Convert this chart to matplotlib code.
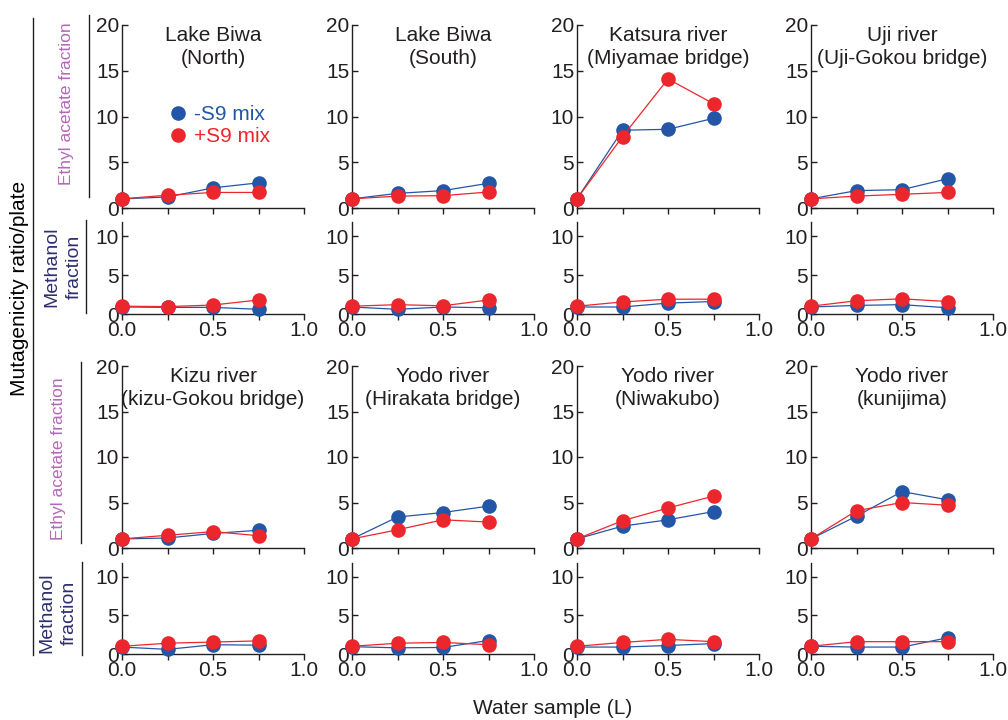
import matplotlib
matplotlib.use('Agg')
import matplotlib.pyplot as plt
from matplotlib.lines import Line2D

plt.rcParams['font.family'] = ['Liberation Sans', 'DejaVu Sans']

# ---------------- data ----------------
water_L = [0.0, 0.25, 0.5, 0.75]

sites = ["Lake Biwa\n(North)", "Lake Biwa\n(South)",
         "Katsura river\n(Miyamae bridge)", "Uji river\n(Uji-Gokou bridge)",
         "Kizu river\n(kizu-Gokou bridge)", "Yodo river\n(Hirakata bridge)",
         "Yodo river\n(Niwakubo)", "Yodo river\n(kunijima)"]

# Ethyl acetate fraction
ea_minus_s9 = [
    [1.0, 1.2, 2.2, 2.75],
    [1.0, 1.6, 1.9, 2.7],
    [1.0, 8.5, 8.6, 9.8],
    [1.0, 1.9, 2.0, 3.2],
    [1.0, 1.1, 1.6, 1.95],
    [1.0, 3.4, 3.9, 4.6],
    [1.0, 2.4, 3.1, 4.0],
    [1.0, 3.5, 6.2, 5.3],
]
ea_plus_s9 = [
    [1.0, 1.4, 1.7, 1.7],
    [1.0, 1.3, 1.35, 1.75],
    [1.0, 7.8, 14.1, 11.4],
    [1.0, 1.3, 1.5, 1.7],
    [1.0, 1.4, 1.8, 1.35],
    [1.0, 2.0, 3.1, 2.85],
    [1.0, 3.0, 4.4, 5.7],
    [1.0, 4.1, 5.0, 4.7],
]
# Methanol fraction
meoh_minus_s9 = [
    [0.9, 0.85, 0.85, 0.6],
    [0.9, 0.6, 0.9, 0.8],
    [0.9, 0.9, 1.4, 1.6],
    [0.9, 1.1, 1.2, 0.8],
    [0.9, 0.6, 1.2, 1.15],
    [0.95, 0.8, 0.85, 1.75],
    [0.9, 0.9, 1.1, 1.35],
    [1.0, 0.9, 0.9, 2.1],
]
meoh_plus_s9 = [
    [1.0, 0.95, 1.15, 1.8],
    [1.0, 1.2, 1.05, 1.8],
    [1.0, 1.55, 1.9, 1.9],
    [1.0, 1.7, 1.95, 1.6],
    [1.0, 1.4, 1.55, 1.7],
    [1.0, 1.4, 1.5, 1.2],
    [1.0, 1.5, 1.9, 1.6],
    [1.0, 1.6, 1.6, 1.6],
]

series_labels = ["-S9 mix", "+S9 mix"]
x_major = [0.0, 0.5, 1.0]
x_minor = [0.25, 0.75]
ea_ticks = [0, 5, 10, 15, 20]
meoh_ticks = [0, 5, 10]

# ---------------- style ----------------
BLUE = '#2356a6'
RED = '#ec262d'
INK = '#231f20'
PURPLE = '#b468b8'
NAVY = '#2f2f70'
FS = 15

W, H = 1008, 720
fig = plt.figure(figsize=(W / 100, H / 100), dpi=100)


def rect(x0, y0, x1, y1):
    return [x0 / W, 1 - y1 / H, (x1 - x0) / W, (y1 - y0) / H]


col_left = [122, 352, 577, 811]
col_w = 182
rows = [((25, 208), (222, 314)), ((366, 548), (563, 654))]


def style(ax, yticks, ylim, show_xlabels):
    ax.set_xlim(0, 1.0)
    ax.set_ylim(*ylim)
    for s in ('top', 'right'):
        ax.spines[s].set_visible(False)
    for s in ('left', 'bottom'):
        ax.spines[s].set_color(INK)
        ax.spines[s].set_linewidth(1.0)
    ax.set_xticks(x_major)
    ax.set_xticks(x_minor, minor=True)
    ax.set_xticklabels(['0.0', '0.5', '1.0'])
    ax.set_yticks(yticks)
    ax.tick_params(axis='x', which='both', direction='out', length=4,
                   width=1.0, color=INK, labelsize=FS, labelcolor=INK, pad=1,
                   labelbottom=show_xlabels)
    ax.tick_params(axis='y', which='both', direction='in', length=4,
                   width=1.0, color=INK, labelsize=FS, labelcolor=INK, pad=2)
    ax.patch.set_alpha(0)


def draw(ax, minus, plus):
    ax.plot(water_L, minus, '-o', color=BLUE, lw=0.9, ms=10.5,
            markeredgewidth=0, clip_on=False, zorder=3)
    ax.plot(water_L, plus, '-o', color=RED, lw=0.9, ms=10.5,
            markeredgewidth=0, clip_on=False, zorder=4)


for i in range(8):
    r, c = divmod(i, 4)
    (uy0, uy1), (ly0, ly1) = rows[r]
    x0 = col_left[c]
    ax_u = fig.add_axes(rect(x0, uy0, x0 + col_w, uy1))
    ax_l = fig.add_axes(rect(x0, ly0, x0 + col_w, ly1))
    style(ax_u, ea_ticks, (0, 20), False)
    style(ax_l, meoh_ticks, (0, 11.8), True)
    draw(ax_u, ea_minus_s9[i], ea_plus_s9[i])
    draw(ax_l, meoh_minus_s9[i], meoh_plus_s9[i])
    ax_u.text(0.5, 0.995, sites[i], transform=ax_u.transAxes, ha='center',
              va='top', fontsize=FS, color=INK, linespacing=1.25)
    if i == 0:
        handles = [Line2D([], [], marker='o', ls='none', color=BLUE, ms=10.5,
                          markeredgewidth=0),
                   Line2D([], [], marker='o', ls='none', color=RED, ms=10.5,
                          markeredgewidth=0)]
        leg = ax_u.legend(handles, series_labels, loc='center left',
                          bbox_to_anchor=(0.26, 0.45), frameon=False,
                          fontsize=FS, handlelength=0.8, handletextpad=0.4,
                          labelspacing=0.12, borderpad=0, borderaxespad=0)
        for t, col in zip(leg.get_texts(), [BLUE, RED]):
            t.set_color(col)


# ---------------- side annotations ----------------
def fx(x):
    return x / W


def fy(y):
    return 1 - y / H


def vline(x, y0, y1):
    fig.add_artist(Line2D([fx(x), fx(x)], [fy(y0), fy(y1)],
                          transform=fig.transFigure, color=INK, lw=1.0))


fig.text(fx(20), fy(288), "Mutagenicity ratio/plate", rotation=90,
         ha='center', va='center', fontsize=FS, color='black')
vline(33, 18, 655)

# top row
fig.text(fx(67), fy(104), "Ethyl acetate fraction", rotation=90,
         ha='center', va='center', fontsize=12.5, color=PURPLE)
vline(89, 15, 197)
fig.text(fx(63), fy(267), "Methanol\nfraction", rotation=90,
         ha='center', va='center', fontsize=14, color=NAVY, linespacing=1.35)
vline(86, 220, 313)

# bottom row
fig.text(fx(58), fy(613), "Methanol\nfraction", rotation=90,
         ha='center', va='center', fontsize=14, color=NAVY, linespacing=1.35)
vline(82, 562, 655)
fig.text(fx(59), fy(459), "Ethyl acetate fraction", rotation=90,
         ha='center', va='center', fontsize=12.5, color=PURPLE)
vline(81, 362, 543)

fig.text(fx(553), fy(708), "Water sample (L)", ha='center', va='center',
         fontsize=FS, color=INK)

fig.savefig('out.png', dpi=100)
